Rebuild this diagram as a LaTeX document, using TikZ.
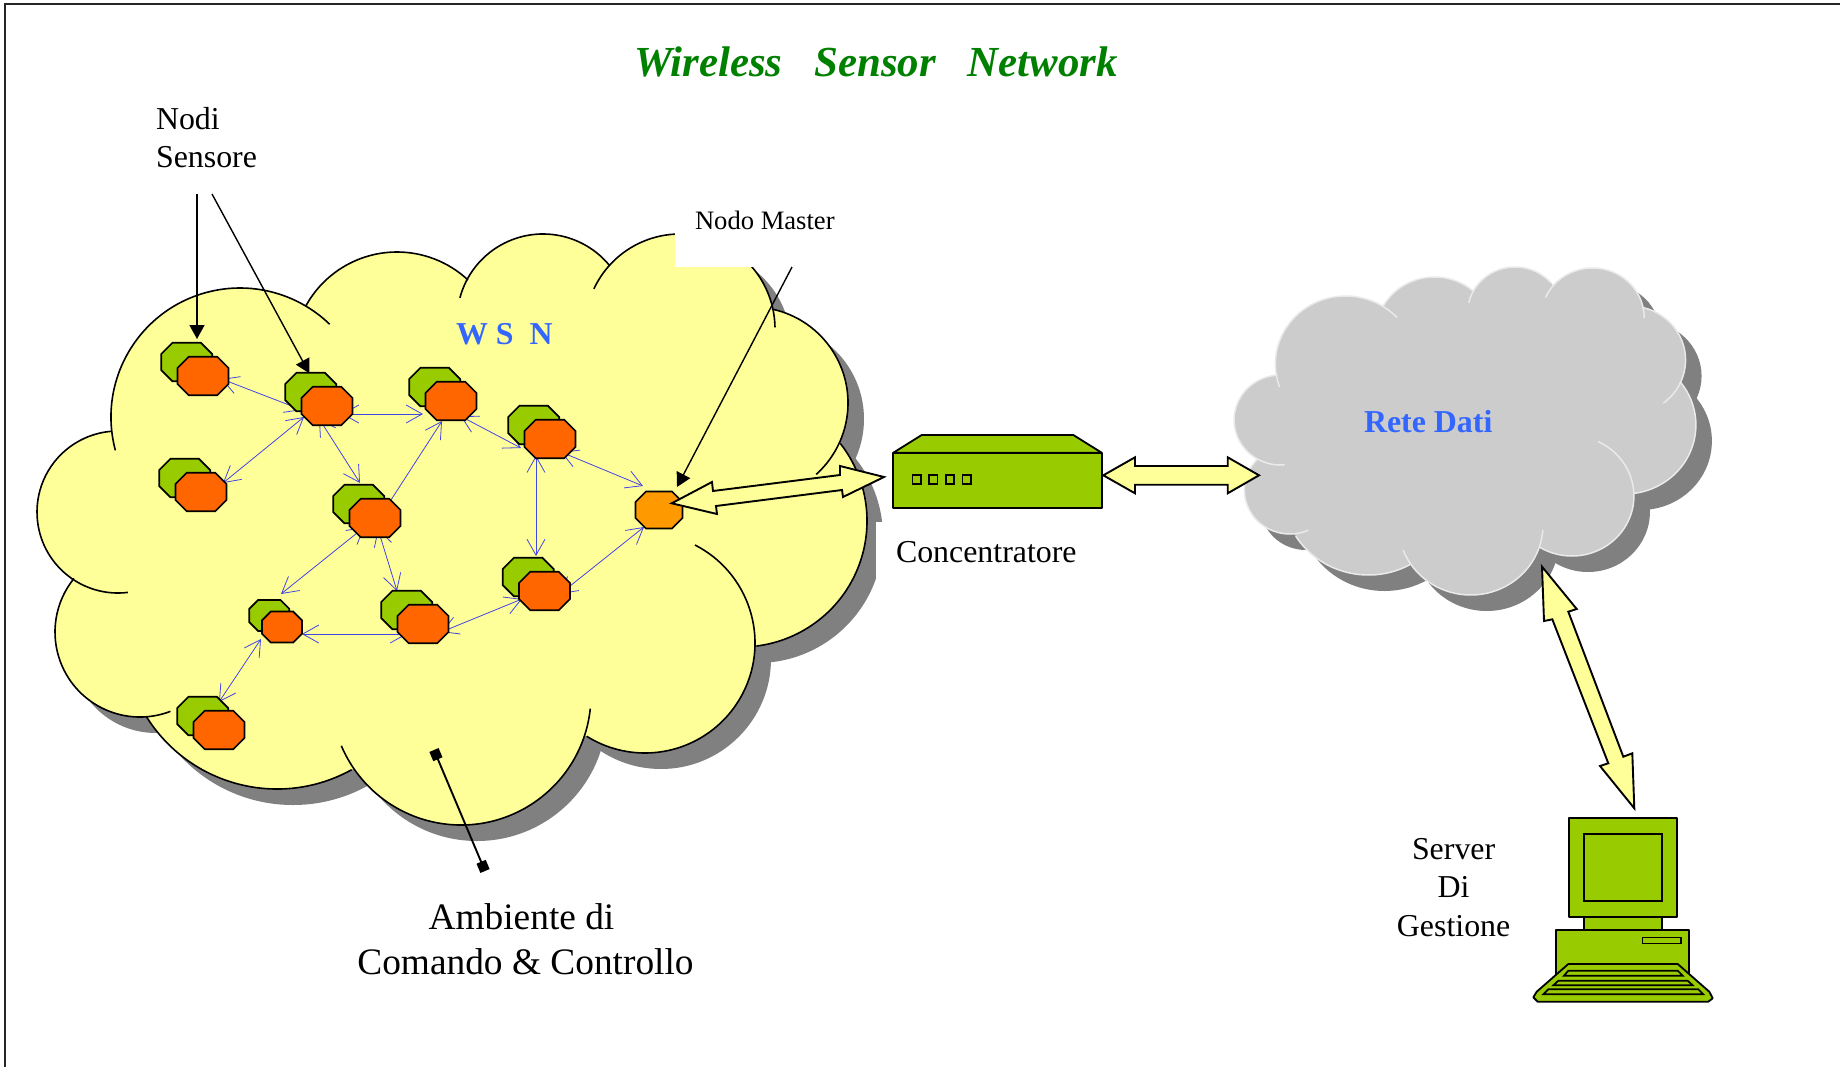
\documentclass[tikz,border=0pt]{standalone}
\usepackage{fontspec}
\setmainfont{Liberation Serif}
\usetikzlibrary{arrows.meta}
\pgfdeclarelayer{cloudlayer}
\pgfdeclarelayer{linklayer}
\pgfsetlayers{cloudlayer,linklayer,main}
\definecolor{cyel}{HTML}{FFFF99}
\definecolor{cgrn}{HTML}{99CC00}
\definecolor{cora}{HTML}{FF6600}
\definecolor{cmas}{HTML}{FF9900}
\definecolor{cblu}{HTML}{3366FF}
\definecolor{clink}{HTML}{4444E8}
\definecolor{cshad}{HTML}{808080}
\definecolor{cgry}{HTML}{CCCCCC}
\definecolor{cedge}{HTML}{EAEAEA}
\definecolor{ctitle}{HTML}{008000}
\tikzset{
  octaline/.style={draw=black,line width=1.7bp,line join=miter},
  octaspot/.style={rectangle,inner sep=0pt,outer sep=0pt},
  blink/.style={draw=clink,line width=.8bp,{Straight Barb[length=16bp,width=18bp,line width=.8bp]}-{Straight Barb[length=16bp,width=18bp,line width=.8bp]}},
  blockarrow/.style={draw=black,fill=cyel,line width=1.9bp,line join=miter},
  device/.style={draw=black,fill=cgrn,line width=1.8bp,line join=round},
  pointer/.style={draw=black,line width=1.4bp,-{Triangle[length=14bp,width=15bp]}},
  lbl/.style={inner sep=0pt,outer sep=0pt,text=black},
}
% #1 name, #2 x, #3 y, #4 fill, #5 half width, #6 half height, #7 chamfer
\newcommand{\octagon}[7]{%
  \node[octaspot,minimum width={2*#5 bp},minimum height={2*#6 bp}] (#1) at (#2,#3) {};
  \draw[octaline,fill=#4,shift={(#2,#3)}] (-#5,{-#6+#7}) -- ({-#5+#7},-#6) -- ({#5-#7},-#6) -- (#5,{-#6+#7}) -- (#5,{#6-#7}) -- ({#5-#7},#6) -- ({-#5+#7},#6) -- (-#5,{#6-#7}) -- cycle;}
\newcommand{\sensor}[3]{%
  \octagon{G#1}{\fpeval{#2-16.3}}{\fpeval{#3-14}}{cgrn}{25.5}{19.3}{11.3}
  \octagon{O#1}{#2}{#3}{cora}{25.5}{19.3}{11.3}}
\newcommand{\sensorsmall}[3]{%
  \octagon{G#1}{\fpeval{#2-12.7}}{\fpeval{#3-11.5}}{cgrn}{20}{15.5}{8.8}
  \octagon{O#1}{#2}{#3}{cora}{20}{15.5}{8.8}}
\newcommand{\wlink}[6]{\draw[blink] ([shift={(#2,#3)}]#1.center) -- ([shift={(#5,#6)}]#4.center);}
\def\yellowlobes{240/417/129/165/314,397/356/104/209/313,543/320/86/195/321,680/329/95/205/359,752/403/96/282/408,741/521/126/322/443,645/643/110/297/482,461/695/130/6/157,277/635/154/61/148,140/632/85/69/219,118/512/81/83/265}
\def\graylobes{1341/364/68/160/317,1427/334/57/210/312,1505/313/46/193/319,1580/318/50/204/360,1616/360/54/283/413,1611/425/69/322/443,1560/496/60/295/482,1462/525/70/4/159,1363/492/83/61/148,1287/490/44/66/223,1278/420/45/85/266}
\newcommand{\yellowbody}[1]{%
  \fill[#1] (240,417)--(397,356)--(543,320)--(680,329)--(752,403)--(741,521)--(645,643)--(461,695)--(277,635)--(140,632)--(118,512)--cycle;
  \foreach \cx/\cy/\r/\a/\b in \yellowlobes {\fill[#1] (\cx,\cy) circle[radius=\r];}}
\newcommand{\graybody}[1]{%
  \fill[#1] (1341,364)--(1427,334)--(1505,313)--(1580,318)--(1616,360)--(1611,425)--(1560,496)--(1462,525)--(1363,492)--(1287,490)--(1278,420)--cycle;
  \foreach \cx/\cy/\r/\a/\b in \graylobes {\fill[#1] (\cx,\cy) circle[radius=\r];}}
\begin{document}
\begin{tikzpicture}[x=1bp,y=-1bp]
\useasboundingbox (0,0) rectangle (1843,1067);
\begin{pgfonlayer}{cloudlayer}
  \fill[white] (0,0) rectangle (1843,1067);
  % page frame
  \draw[line width=2bp,draw=black!85] (1840,4) -- (5,4) -- (5,1067);
  % WSN cloud
  \begin{scope}[shift={(16,16)}]\yellowbody{cshad}\end{scope}
  \yellowbody{cyel}
  \foreach \cx/\cy/\r/\a/\b in \yellowlobes {
    \draw[black,line width=1.6bp] (\cx,\cy) ++(\a:\r) arc[start angle=\a,end angle=\b,radius=\r];}
  % white text boxes over the cloud
  \fill[white] (675,190) rectangle (850,267);
  \fill[white] (876,522) rectangle (1100,580);
  % data cloud
  \begin{scope}[cm={1.0331,0,0,1,(-39.72,0)}]
    \begin{scope}[shift={(15.5,16)}]\graybody{cshad}\end{scope}
    \graybody{cgry}
    \foreach \cx/\cy/\r/\a/\b in \graylobes {
      \draw[cedge,line width=1.5bp] (\cx,\cy) ++(\a:\r) arc[start angle=\a,end angle=\b,radius=\r];}
  \end{scope}
\end{pgfonlayer}

% sensor nodes
\sensor{1}{203}{376}
\sensor{2}{327}{406}
\sensor{3}{451}{401}
\sensor{4}{550}{439}
\sensor{5}{201}{492}
\sensor{6}{375}{518}
\sensorsmall{7}{282}{627}
\sensor{8}{423}{624}
\sensor{9}{219}{730}
\sensor{10}{544.5}{591}
\octagon{M}{659}{510}{cmas}{23.5}{18.5}{10.5}

% radio links
\begin{pgfonlayer}{linklayer}
  \wlink{O1}{18.7}{3}{O2}{-25}{4}
  \wlink{O5}{22}{-9}{O2}{-23}{11}
  \wlink{O2}{15}{8}{O3}{-28}{13}
  \wlink{O2}{-8}{12.5}{O6}{-15}{-35}
  \wlink{O6}{5}{-1}{O3}{-9}{20}
  \wlink{O3}{9.8}{15.3}{O4}{-29}{9}
  \wlink{O4}{11}{13}{M}{-16}{-24}
  \wlink{O4}{-14}{16.7}{O10}{-8.5}{-35}
  \wlink{O10}{15.5}{3}{M}{-15}{17}
  \wlink{O6}{-10.5}{9}{O7}{-1}{-33}
  \wlink{O6}{3}{11}{O8}{-26}{-33}
  \wlink{O8}{-16}{10}{O7}{20}{7}
  \wlink{O8}{18.4}{8}{O10}{-22.5}{8}
  \wlink{O7}{-21}{12}{O9}{0}{-28}
\end{pgfonlayer}

% concentrator
\draw[device] (893.3,452.7) -- (921.7,435) -- (1073.3,435) -- (1101.7,452.7) -- cycle;
\node[device,rectangle,inner sep=0pt,outer sep=0pt,minimum width=208.4bp,minimum height=55.6bp] (conc) at (997.5,480.5) {};
\foreach \i in {0,1,2,3} {
  \draw[black,line width=1.6bp] ({912.3+16.7*\i},475) rectangle ({920.7+16.7*\i},483.7);}

% computer
\draw[device] (1584.3,916.7) rectangle (1661.7,930);
\node[device,rectangle,inner sep=0pt,outer sep=0pt,minimum width=108bp,minimum height=99bp] (mon) at (1623,867.2) {};
\draw[black,line width=1.7bp] (1584.3,833.7) rectangle (1661.7,900.7);
\draw[device] (1556.3,930) rectangle (1689.3,975);
\draw[black,line width=1.5bp] (1642.3,937.7) rectangle (1681,943.3);
\draw[device] (1568.3,964) -- (1677.7,964) -- (1709.3,991.7) -- (1712.7,998.3) -- (1708.3,1001.7) -- (1537.7,1001.7) -- (1533.3,997.3) -- (1536.7,991.7) -- cycle;
\draw[black,line width=1.7bp] (1568.3,970.7) -- (1677.7,970.7) -- (1682.7,975.7) -- (1564,975.7) -- cycle;
\draw[black,line width=1.7bp] (1558.3,980.7) -- (1687.7,980.7) -- (1692.7,985.3) -- (1553.3,985.3) -- cycle;
\draw[black,line width=1.7bp] (1548.3,989.3) -- (1698.3,989.3) -- (1703.3,994.3) -- (1543.3,994.3) -- cycle;

% block arrows
\draw[blockarrow] (671.7,503.3) -- (712,482) -- (713,491) -- (840,475) -- (840,466) -- (884,477) -- (843,497) -- (842,490) -- (716,506) -- (717,514) -- cycle;
\draw[blockarrow] (1103.3,475.3) -- (1135,457.3) -- (1135,466) -- (1227.7,466) -- (1227.7,457.3) -- (1259,475.3) -- (1227.7,493.3) -- (1227.7,484.7) -- (1135,484.7) -- (1135,493.3) -- cycle;
\draw[blockarrow] (1542,566.7) -- (1576.7,609) -- (1568.3,611.7) -- (1623.3,756.7) -- (1632.3,753.3) -- (1634.3,808.3) -- (1600,766) -- (1608.3,763.3) -- (1552.3,619.3) -- (1544,621) -- cycle;

% labels
\node[lbl,anchor=base west,font=\fontsize{43}{50}\selectfont\bfseries\itshape,text=ctitle] (title) at (634,76) {Wireless\ \ \ Sensor\ \ \ Network};
\node[lbl,align=left,font=\fontsize{32}{38}\selectfont,anchor=center] (nodi) at (206.5,138) {Nodi\\Sensore};
\node[lbl,anchor=base west,font=\fontsize{26.7}{32}\selectfont] (master) at (695,229.5) {Nodo Master};
\node[lbl,anchor=base west,font=\fontsize{32}{38}\selectfont\bfseries,text=cblu] (wsn) at (456,344) {W S\ \ N};
\node[lbl,anchor=base west,font=\fontsize{32}{38}\selectfont\bfseries,text=cblu] (rete) at (1364,432.7) {Rete Dati};
\node[lbl,anchor=base west,font=\fontsize{32}{38}\selectfont] (conclbl) at (896,562.7) {Concentratore};
\node[lbl,align=center,font=\fontsize{37.5}{45}\selectfont,anchor=center] (amb) at (525.5,939.5) {Ambiente di\hspace*{8bp}\\Comando \& Controllo};
\node[lbl,align=center,font=\fontsize{32}{38.8}\selectfont,anchor=center] (srv) at (1453.6,887.5) {Server\\Di\\Gestione};

% pointers
\coordinate (nodiA) at (197,194);
\coordinate (nodiB) at (212,194);
\coordinate (mastA) at (792,267);
\coordinate (ambA) at (434,750);
\coordinate (ambB) at (485,871);
\draw[pointer,line width=1.6bp] (nodiA) -- ([shift={(10.3,-23)}]G1.center);
\draw[pointer] (nodiB) -- ([shift={(-1.4,-18.7)}]G2.center);
\draw[pointer] (mastA) -- ([shift={(18,-23)}]M.center);
\draw[line width=1.9bp,{Square[length=10bp,width=10bp]}-{Square[length=10bp,width=10bp]}] (ambA) -- (ambB);
\end{tikzpicture}
\end{document}
